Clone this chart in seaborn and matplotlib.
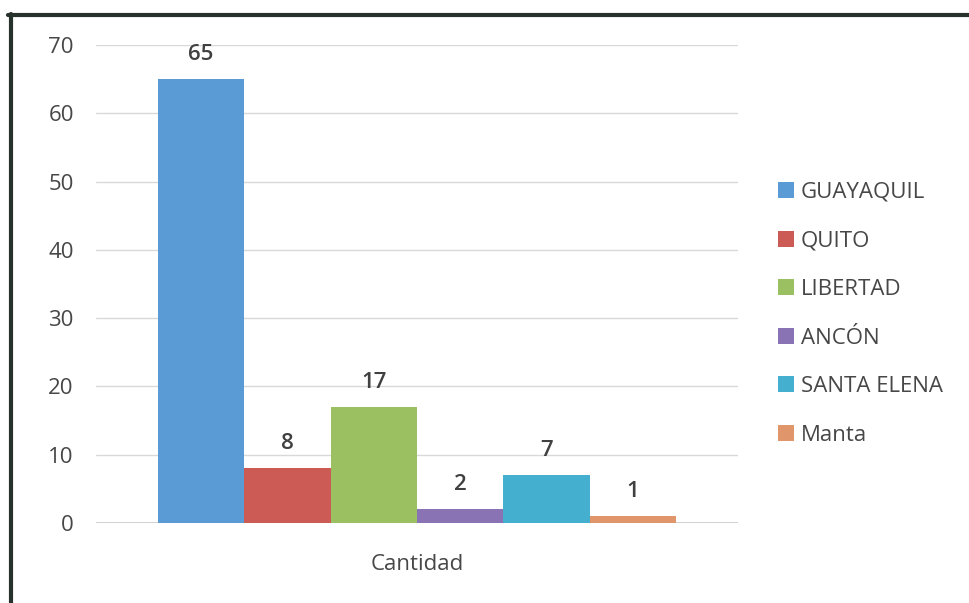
import matplotlib
matplotlib.use("Agg")
import matplotlib.pyplot as plt
from matplotlib.lines import Line2D
from matplotlib.patches import Patch
import pandas as pd
import seaborn as sns

# Datos
ciudades = ["GUAYAQUIL", "QUITO", "LIBERTAD", "ANCÓN", "SANTA ELENA", "Manta"]
cantidades = [65, 8, 17, 2, 7, 1]
grupo = "Cantidad"
colores = ["#5b9bd5", "#cc5b56", "#9bc062", "#8a73b5", "#45afcf", "#e0966a"]
ticks_y = [0, 10, 20, 30, 40, 50, 60, 70]

df = pd.DataFrame({"grupo": [grupo] * len(ciudades),
                   "ciudad": ciudades,
                   "valor": cantidades})

sns.set_theme(style="white")
plt.rcParams["font.family"] = ["Open Sans", "DejaVu Sans"]
texto = "#474747"
fs = 16

fig = plt.figure(figsize=(9.70, 6.03), dpi=100)
fig.patch.set_facecolor("white")
ax = fig.add_axes([0.099, 0.1327, 0.662, 0.7927])

sns.barplot(data=df, x="grupo", y="valor", hue="ciudad", hue_order=ciudades,
            palette=colores, width=0.807, gap=0, saturation=1,
            edgecolor="none", linewidth=0, legend=False, ax=ax)

ax.set_ylim(0, 70)
ax.set_xlim(-0.5, 0.5)
ax.set_yticks(ticks_y)
ax.yaxis.grid(True, color="#d9d9d9", linewidth=1)
ax.set_axisbelow(True)
for s in ax.spines.values():
    s.set_visible(False)
ax.axhline(0, color="#c8c8c8", linewidth=1.2, zorder=0.5)
ax.tick_params(axis="y", labelsize=fs, colors=texto, length=0, pad=16)
ax.tick_params(axis="x", labelsize=fs, colors=texto, length=0, pad=22)
ax.set_xlabel("")
ax.set_ylabel("")

# Etiquetas de valor sobre cada barra
for cont in ax.containers:
    for barra in cont:
        h = barra.get_height()
        ax.annotate(f"{h:g}", (barra.get_x() + barra.get_width() / 2, h),
                    xytext=(0, 10), textcoords="offset points",
                    ha="center", va="bottom", fontsize=fs,
                    fontweight="semibold", color="#404040")

# Leyenda
handles = [Patch(facecolor=c, edgecolor="none") for c in colores]
fig.legend(handles, ciudades, loc="upper left",
           bbox_to_anchor=(0.793, 0.713), frameon=False, fontsize=fs,
           labelcolor=texto, handlelength=0.72, handleheight=0.72,
           handletextpad=0.3, labelspacing=1.24, borderaxespad=0)

# Marco superior e izquierdo
fig.add_artist(Line2D([8 / 970, 1.0], [1 - 15 / 603, 1 - 15 / 603],
                      transform=fig.transFigure, color="#26322b", linewidth=3))
fig.add_artist(Line2D([11 / 970, 11 / 970], [1 - 14 / 603, 0.0],
                      transform=fig.transFigure, color="#26322b", linewidth=3))

fig.savefig("out.png", dpi=100, facecolor="white")
